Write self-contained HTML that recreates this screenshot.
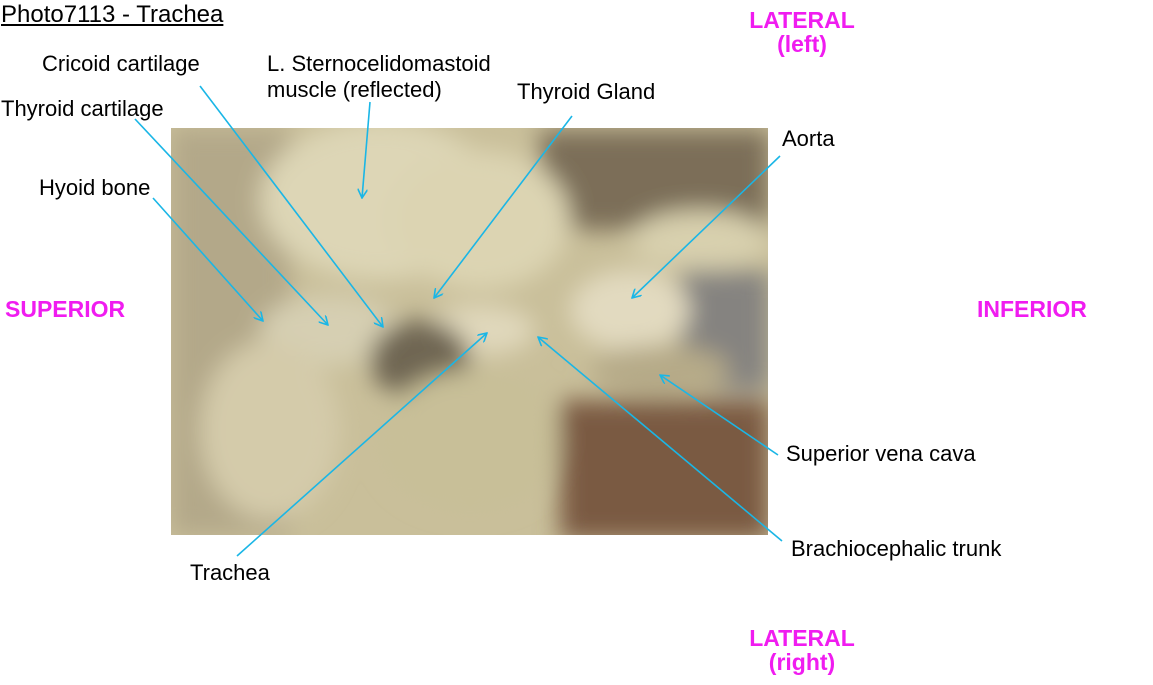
<!DOCTYPE html>
<html><head><meta charset="utf-8"><style>
html,body{margin:0;padding:0;background:#fff;}
body{width:1153px;height:685px;position:relative;overflow:hidden;font-family:"Liberation Sans",Arial,sans-serif;}
.t{position:absolute;font-size:22px;color:#000;white-space:nowrap;line-height:24px;}
.m{position:absolute;font-size:23px;color:#f01cf0;font-weight:bold;text-align:center;line-height:24px;white-space:nowrap;}
</style></head><body>
<svg width="1153" height="685" style="position:absolute;left:0;top:0">
<defs>
<filter id="b" x="-20%" y="-20%" width="140%" height="140%"><feGaussianBlur stdDeviation="12"/></filter>
<clipPath id="c"><rect x="171" y="128" width="597" height="407"/></clipPath>
<marker id="a" markerWidth="10" markerHeight="10" refX="9" refY="5" orient="auto" markerUnits="userSpaceOnUse"><path d="M0,0 L9,5 L0,10" fill="none" stroke="#1ab6e6" stroke-width="1.6"/></marker>
</defs>
<g clip-path="url(#c)">
<rect x="171" y="128" width="597" height="407" fill="#c9bf9a"/>
<g filter="url(#b)">
<rect x="171" y="128" width="120" height="407" fill="#b3a889"/>
<rect x="540" y="130" width="230" height="100" fill="#7c6e58"/>
<rect x="560" y="400" width="210" height="140" fill="#7a5a42"/>
<rect x="680" y="270" width="90" height="120" fill="#858380"/>
<ellipse cx="380" cy="200" rx="120" ry="80" fill="#ddd6b6"/>
<ellipse cx="480" cy="220" rx="90" ry="70" fill="#dcd4b2"/>
<ellipse cx="330" cy="330" rx="70" ry="35" fill="#d6cfb2"/>
<ellipse cx="480" cy="330" rx="55" ry="25" fill="#e0d8bc"/>
<ellipse cx="420" cy="360" rx="50" ry="40" fill="#6f6652"/>
<ellipse cx="630" cy="310" rx="60" ry="40" fill="#e2dac0"/>
<ellipse cx="700" cy="240" rx="70" ry="30" fill="#d8d0ae"/>
<ellipse cx="470" cy="440" rx="90" ry="70" fill="#c8bf98"/>
<ellipse cx="270" cy="430" rx="70" ry="90" fill="#d4cbaa"/>
<ellipse cx="660" cy="370" rx="70" ry="25" fill="#b6aa88"/>
</g>
</g>
<g stroke="#1ab6e6" stroke-width="1.6" fill="none" marker-end="url(#a)">
<line x1="200" y1="86" x2="383" y2="327"/>
<line x1="370" y1="102" x2="362" y2="198"/>
<line x1="135" y1="119" x2="328" y2="325"/>
<line x1="153" y1="198" x2="263" y2="321"/>
<line x1="572" y1="116" x2="434" y2="298"/>
<line x1="780" y1="156" x2="632" y2="298"/>
<line x1="778" y1="455" x2="660" y2="375"/>
<line x1="782" y1="541" x2="538" y2="337"/>
<line x1="237" y1="556" x2="487" y2="333"/>
</g>
</svg>
<div class="t" style="left:1px;top:3px;font-size:24px;text-decoration:underline">Photo7113 - Trachea</div>
<div class="t" style="left:42px;top:52px">Cricoid cartilage</div>
<div class="t" style="left:267px;top:51px;line-height:26px">L. Sternocelidomastoid<br>muscle (reflected)</div>
<div class="t" style="left:1px;top:97px">Thyroid cartilage</div>
<div class="t" style="left:39px;top:176px">Hyoid bone</div>
<div class="t" style="left:517px;top:80px">Thyroid Gland</div>
<div class="t" style="left:782px;top:127px">Aorta</div>
<div class="t" style="left:786px;top:442px">Superior vena cava</div>
<div class="t" style="left:791px;top:537px">Brachiocephalic trunk</div>
<div class="t" style="left:190px;top:561px">Trachea</div>
<div class="m" style="left:742px;top:8px;width:120px">LATERAL<br>(left)</div>
<div class="m" style="left:5px;top:297px">SUPERIOR</div>
<div class="m" style="left:977px;top:297px">INFERIOR</div>
<div class="m" style="left:742px;top:626px;width:120px">LATERAL<br>(right)</div>
</body></html>
